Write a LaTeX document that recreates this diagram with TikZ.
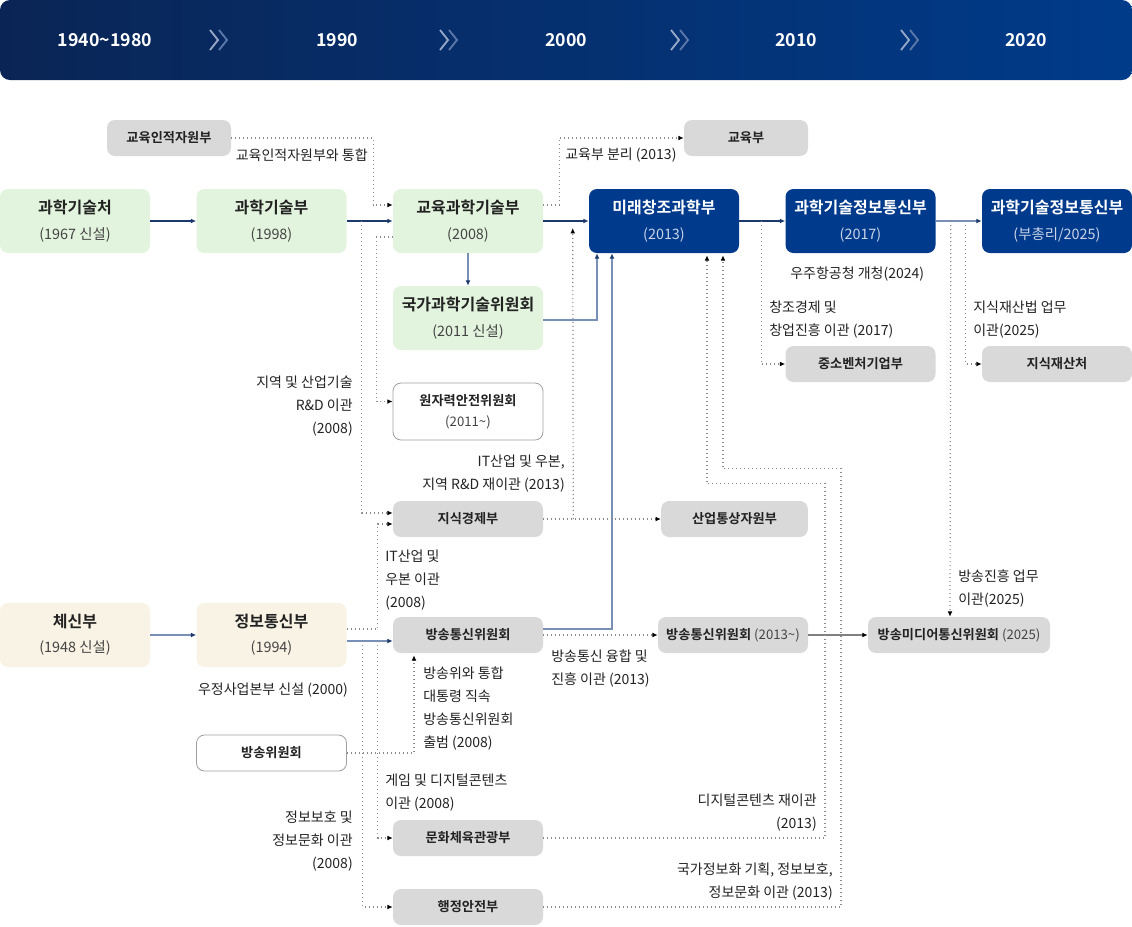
\documentclass[tikz,border=0pt]{standalone}
\usepackage{fontspec}
\setmainfont{Noto Sans CJK KR}[BoldFont={* Bold}]
\usepackage{tikz}
\usetikzlibrary{positioning,calc,arrows.meta}
\usepackage{xcolor}

\definecolor{hdrLeft}{HTML}{0A2555}
\definecolor{hdrRight}{HTML}{003B8A}
\definecolor{chevA}{HTML}{95A6C6}
\definecolor{chevB}{HTML}{5B76A8}
\definecolor{navy}{HTML}{003A8C}
\definecolor{navySub}{HTML}{C9D4E8}
\definecolor{sciGreen}{HTML}{E3F4DE}
\definecolor{telCream}{HTML}{F8F3E4}
\definecolor{boxGray}{HTML}{D9D9D9}
\definecolor{txtDark}{HTML}{222222}
\definecolor{txtSub}{HTML}{444444}
\definecolor{lineNavy}{HTML}{1B3A6B}
\definecolor{steel}{HTML}{7890B5}
\definecolor{dotGray}{HTML}{8A8A8A}

\newcommand{\ttl}[1]{{\fontsize{12}{14}\selectfont\bfseries #1}}
\newcommand{\yr}[2][txtSub]{{\color{#1}#2}}

\begin{document}
\begin{tikzpicture}[x=0.75pt,y=-0.75pt,
	box/.style={rounded corners=6pt, minimum width=112.5pt, minimum height=48pt, inner sep=0pt, align=center, text=txtDark, font=\fontsize{10.8}{19}\selectfont},
	greenbox/.style={box, fill=sciGreen},
	creambox/.style={box, fill=telCream},
	navybox/.style={box, fill=navy, text=white},
	graybox/.style={rounded corners=6pt, fill=boxGray, minimum width=112.5pt, minimum height=27pt, inner sep=0pt, text=txtDark, font=\fontsize{9.9}{11}\selectfont\bfseries},
	outbox/.style={graybox, fill=white, draw=gray!75, line width=0.6pt},
	lbl/.style={inner sep=0pt, text=txtDark, font=\fontsize{10.5}{17.25}\selectfont},
	yeartxt/.style={text=white, font=\fontsize{13.3}{15}\selectfont\bfseries},
	chev/.style={line width=1.4pt},
	navyline/.style={draw=lineNavy, line width=0.9pt, -{Latex[length=4pt,width=3.6pt]}},
	steelline/.style={draw=steel, line width=1.5pt, -{Latex[length=4pt,width=3.6pt,color=lineNavy]}},
	grayline/.style={draw=gray, line width=1.5pt, -{Latex[length=4pt,width=3.6pt,color=black]}},
	dotline/.style={draw=dotGray, line width=0.9pt, dash pattern=on 0.9pt off 2.1pt, -{Latex[length=4pt,width=3.6pt,color=black]}}
	]
	\useasboundingbox (0,0) rectangle (1132,926);

	% Timeline header
	\shade[left color=hdrLeft, right color=hdrRight, rounded corners=7.5pt] (0,0) rectangle (1132,80);
	\foreach \yx/\yt [count=\i] in {105/{1940\textasciitilde1980}, 337/1990, 566/2000, 796/2010, 1026/2020} {
		\node[yeartxt] (year\i) at (\yx,40) {\yt};
	}
	\foreach \cx in {220,450,681,911} {
		\draw[chev, draw=chevA] (\cx-10,30) -- (\cx-2,40) -- (\cx-10,50);
		\draw[chev, draw=chevB] (\cx-1,30) -- (\cx+7,40) -- (\cx-1,50);
	}

	% Science line
	\node[graybox, minimum width=93pt] (hrd) at (169,138) {교육인적자원부};
	\node[graybox, minimum width=93pt] (moe) at (746,138) {교육부};
	\node[greenbox] (most67) at (75,221) {\ttl{과학기술처}\\\yr{(1967 신설)}};
	\node[greenbox] (most98) at (271.5,221) {\ttl{과학기술부}\\\yr{(1998)}};
	\node[greenbox] (mest) at (468,221) {\ttl{교육과학기술부}\\\yr{(2008)}};
	\node[navybox] (msip) at (664,221) {\ttl{미래창조과학부}\\\yr[navySub]{(2013)}};
	\node[navybox] (msit17) at (860.5,221) {\ttl{과학기술정보통신부}\\\yr[navySub]{(2017)}};
	\node[navybox] (msit25) at (1057,221) {\ttl{과학기술정보통신부}\\\yr[navySub]{(부총리/2025)}};
	\node[greenbox] (nstc) at (468,318) {\ttl{국가과학기술위원회}\\\yr{(2011 신설)}};
	\node[outbox, minimum height=42.75pt, align=center, font=\fontsize{9.9}{16}\selectfont\bfseries] (nssc) at (468,411.5) {원자력안전위원회\\{\mdseries\color{txtSub}(2011\textasciitilde)}};
	\node[graybox] (mss) at (860.5,364) {중소벤처기업부};
	\node[graybox] (kipo) at (1057,364) {지식재산처};
	\node[graybox] (mke) at (468,519) {지식경제부};
	\node[graybox, minimum width=110pt] (motie) at (734.5,519) {산업통상자원부};

	% Telecom line
	\node[creambox] (mpt) at (75,635) {\ttl{체신부}\\\yr{(1948 신설)}};
	\node[creambox] (mic) at (271.5,635) {\ttl{정보통신부}\\\yr{(1994)}};
	\node[graybox] (kcc) at (468,635) {방송통신위원회};
	\node[graybox] (kcc13) at (733,635) {방송통신위원회 {\mdseries\color{txtSub}(2013\textasciitilde)}};
	\node[graybox, minimum width=136.5pt] (kmcc) at (959,635) {방송미디어통신위원회 {\mdseries\color{txtSub}(2025)}};
	\node[outbox] (kbc) at (271.5,753) {방송위원회};
	\node[graybox] (mcst) at (468,838) {문화체육관광부};
	\node[graybox] (mois) at (468,907) {행정안전부};

	% Main arrows
	\draw[navyline] (most67) -- (most98);
	\draw[navyline] (most98) -- (mest);
	\draw[navyline] (mest) -- (msip);
	\draw[navyline] (msip) -- (msit17);
	\draw[steelline] (msit17) -- (msit25);
	\draw[steelline] (mest) -- (nstc);
	\draw[steelline] ($(nstc.east)+(0,2)$) -| ($(msip.south)+(-67,0)$);
	\draw[steelline] ($(kcc.east)+(0,-6)$) -| ($(msip.south)+(-52,0)$);
	\draw[steelline] (mpt) -- (mic);
	\draw[steelline] ($(mic.east)+(0,6)$) -- ($(kcc.west)+(0,6)$);
	\draw[grayline] (kcc13) -- (kmcc);

	% Transfers (dotted)
	\draw[dotline] (hrd.east) -- ++(142,0) |- ($(mest.west)+(0,-16)$);
	\draw[dotline] ($(mest.east)+(0,-16)$) -- ++(16,0) |- (moe.west);
	\draw[dotline] ($(most98.east)+(15,0)$) |- ($(mke.west)+(0,-6)$);
	\draw[dotline] ($(mest.west)+(0,16)$) -- ++(-16,0) |- ($(nssc.west)+(0,-10)$);
	\draw[dotline] (mke) -- (motie);
	\draw[dotline] ($(mke.east)+(30,0)$) -- ($(msip.west)+(-16,7)$);
	\draw[dotline] ($(mic.east)+(0,-6)$) -- ++(31,0) |- ($(mke.west)+(0,5)$);
	\draw[dotline] (kbc.east) -| ($(kcc.south)+(-54,2)$);
	\draw[dotline] ($(mic.east)+(31,6)$) |- (mcst.west);
	\draw[dotline] ($(mic.east)+(16,6)$) |- (mois.west);
	\draw[dotline] (mcst.east) -| ($(msip.south)+(161,230)$) -| ($(msip.south)+(43,2)$);
	\draw[dotline] (mois.east) -| ($(msip.south)+(177,215)$) -| ($(msip.south)+(59,2)$);
	\draw[dotline] (kcc) -- (kcc13);
	\draw[dotline] ($(msip.east)+(22,0)$) |- (mss.west);
	\draw[dotline] ($(msit17.east)+(15,0)$) -- ($(kmcc.north)+(-9,0)$);
	\draw[dotline] ($(msit17.east)+(30,0)$) |- (kipo.west);

	% Labels
	\node[lbl, anchor=east] (l1) at (368,155) {교육인적자원부와 통합};
	\node[lbl, anchor=west] (l2) at (565,155) {교육부 분리 (2013)};
	\node[lbl, anchor=west] (l13) at (790,274) {우주항공청 개청(2024)};
	\node[lbl, anchor=west, align=left] (l14) at (769,319.5) {창조경제 및\\창업진흥 이관 (2017)};
	\node[lbl, anchor=west, align=left] (l15) at (973,319.5) {지식재산법 업무\\이관(2025)};
	\node[lbl, anchor=east, align=right] (l3) at (353,406) {지역 및 산업기술\\R\&D 이관\\(2008)};
	\node[lbl, anchor=east, align=right] (l4) at (565,473.5) {IT산업 및 우본,\\지역 R\&D 재이관 (2013)};
	\node[lbl, anchor=west, align=left] (l5) at (385,580) {IT산업 및\\우본 이관\\(2008)};
	\node[lbl, anchor=west, align=left] (l16) at (958,588.5) {방송진흥 업무\\이관(2025)};
	\node[lbl, anchor=west, align=left] (l8) at (551,668.5) {방송통신 융합 및\\진흥 이관 (2013)};
	\node[lbl] (l6) at (273,690) {우정사업본부 신설 (2000)};
	\node[lbl, anchor=west, align=left] (l7) at (423,708.5) {방송위와 통합\\대통령 직속\\방송통신위원회\\출범 (2008)};
	\node[lbl, anchor=west, align=left] (l9) at (385,793) {게임 및 디지털콘텐츠\\이관 (2008)};
	\node[lbl, anchor=east, align=right] (l11) at (817,813) {디지털콘텐츠 재이관\\(2013)};
	\node[lbl, anchor=east, align=right] (l10) at (353,841) {정보보호 및\\정보문화 이관\\(2008)};
	\node[lbl, anchor=east, align=right] (l12) at (833,882) {국가정보화 기획, 정보보호,\\정보문화 이관 (2013)};
\end{tikzpicture}
\end{document}
